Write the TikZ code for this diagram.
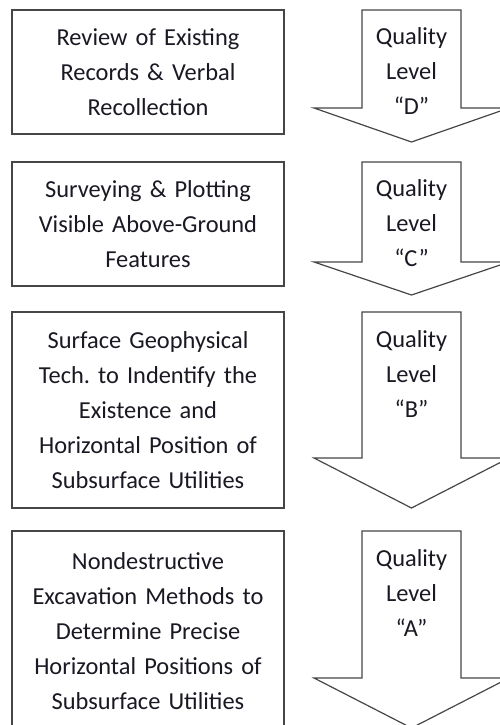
\documentclass[tikz,border=0pt]{standalone}
\usepackage{fontspec}
\setmainfont{Carlito}
\frenchspacing
\definecolor{edge}{RGB}{70,70,70}
\definecolor{txt}{RGB}{25,25,35}
\begin{document}
\begin{tikzpicture}[x=0.75pt,y=-0.75pt,
  lbl/.style={font=\fontsize{18.3pt}{26.3pt}\selectfont, text=txt, align=center, inner sep=0pt},
  boxnode/.style={draw=edge, line width=1.4pt, minimum width=204pt, text width=200pt, align=center, inner sep=0pt, font=\fontsize{18.3pt}{26.3pt}\selectfont, text=txt},
  arrowshape/.style={draw=edge, line width=0.9pt, fill=white, line join=miter}]
\useasboundingbox (0,0) rectangle (500,725);
\clip (0,0) rectangle (500,725);
\fill[white] (0,0) rectangle (500,725);

% boxes
\node[boxnode, minimum height=93pt] (b1) at (148,72) {Review of Existing\\Records \& Verbal\\Recollection};
\node[boxnode, minimum height=93pt] (b2) at (148,224) {Surveying \& Plotting\\Visible Above-Ground\\Features};
\node[boxnode, minimum height=147pt] (b3) at (148,410) {Surface Geophysical\\Tech. to Indentify the\\Existence and\\Horizontal Position of\\Subsurface Utilities};
\node[boxnode, minimum height=150pt] (b4) at (148,631) {Nondestructive\\Excavation Methods to\\Determine Precise\\Horizontal Positions of\\Subsurface Utilities};

% arrows
\draw[arrowshape] (362,10) -- (461,10) -- (461,108) -- (509,108) -- (411.5,142) -- (314,108) -- (362,108) -- cycle;
\draw[arrowshape] (362,162) -- (461,162) -- (461,262) -- (509,262) -- (411.5,295) -- (314,262) -- (362,262) -- cycle;
\draw[arrowshape] (362,312) -- (461,312) -- (461,458) -- (509,458) -- (411.5,508) -- (314,458) -- (362,458) -- cycle;
\draw[arrowshape] (362,531) -- (461,531) -- (461,678) -- (509,678) -- (411.5,728) -- (314,678) -- (362,678) -- cycle;

% arrow labels
\node[lbl] (q1) at (411.5,71) {Quality\\Level\\“D”};
\node[lbl] (q2) at (411.5,223) {Quality\\Level\\“C”};
\node[lbl] (q3) at (411.5,374) {Quality\\Level\\“B”};
\node[lbl] (q4) at (411.5,593) {Quality\\Level\\“A”};
\end{tikzpicture}
\end{document}
